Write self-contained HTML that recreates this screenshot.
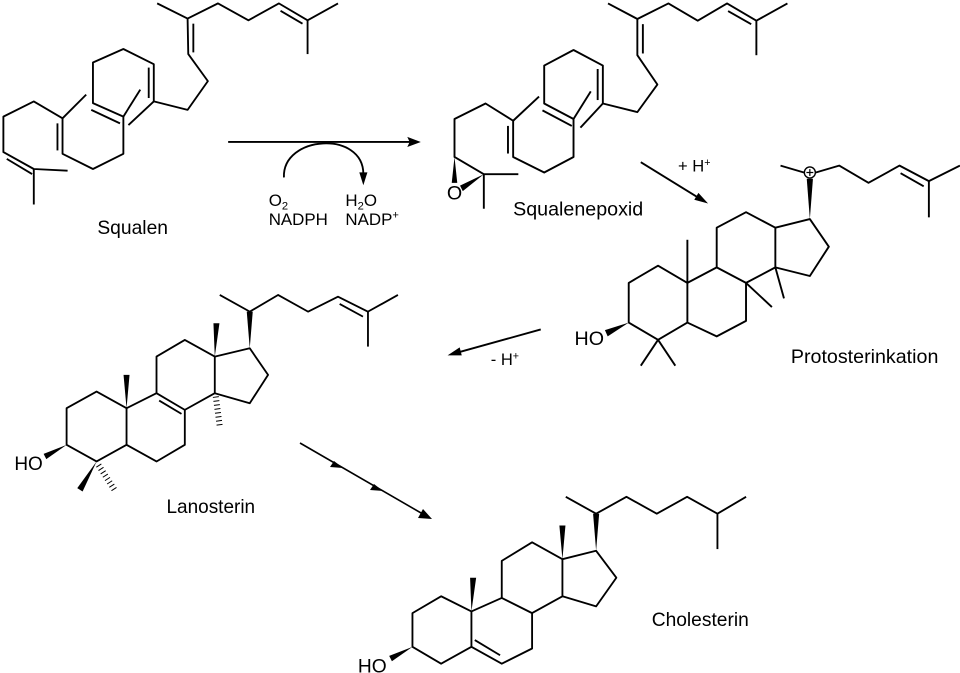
<!DOCTYPE html>
<html><head><meta charset="utf-8"><style>html,body{margin:0;padding:0;background:#fff}svg{display:block}</style></head><body>
<svg width="960" height="673" viewBox="0 0 960 673" xmlns="http://www.w3.org/2000/svg" font-family="Liberation Sans, Arial, sans-serif">
<rect width="960" height="673" fill="#fff"/>

<!-- Squalen -->
<g transform="scale(0.338)" stroke="#000" stroke-width="5.5" fill="none" stroke-linejoin="round">
<polyline points="465,10 555,55 645,10 735,60 825,10 910,60 1000,10"/>
<line x1="910" y1="60" x2="910" y2="160"/>
<line x1="830" y1="32" x2="895" y2="70"/>
<polyline points="555,55 557,160 615,240 555,325 455,300 455,190 365,145 275,185 275,305 365,345 365,455 275,500 185,455 185,350 100,300 10,345 10,450 100,500 200,505"/>
<line x1="572" y1="70" x2="572" y2="155"/>
<line x1="440" y1="200" x2="440" y2="290"/>
<line x1="270" y1="325" x2="355" y2="365"/>
<line x1="170" y1="365" x2="170" y2="445"/>
<line x1="20" y1="470" x2="95" y2="515"/>
<line x1="100" y1="500" x2="100" y2="605"/>
<line x1="185" y1="350" x2="255" y2="280"/>
<line x1="365" y1="345" x2="415" y2="265"/>
<line x1="455" y1="300" x2="380" y2="370"/>
<line x1="675" y1="420" x2="1215" y2="420"/>
<path d="M840,525 C835,400 1075,385 1075,515"/>
<polygon points="1245,420 1205,405 1212,420 1205,435" fill="#000" stroke="none"/>
<polygon points="1075,548 1063,510 1087,510" fill="#000" stroke="none"/>
<g fill="#000" stroke="none" font-size="50">
<text x="288" y="692" font-size="57">Squalen</text>
<text x="795" y="610">O<tspan font-size="33" dy="10">2</tspan></text>
<text x="795" y="665">NADPH</text>
<text x="1022" y="610">H<tspan font-size="33" dy="10">2</tspan><tspan dy="-10">O</tspan></text>
<text x="1022" y="665">NADP<tspan font-size="33" dy="-18">+</tspan></text>
</g>
</g>

<!-- Squalenepoxid + Protosterinkation -->
<g transform="translate(420,0) scale(0.345)" stroke="#000" stroke-width="5.5" fill="none" stroke-linejoin="round">
<polyline points="545,10 630,55 720,10 805,60 890,10 975,60 1065,10"/>
<line x1="975" y1="60" x2="975" y2="160"/>
<line x1="893" y1="32" x2="960" y2="70"/>
<polyline points="630,55 630,160 688,245 630,325 530,300 530,190 445,145 360,190 360,300 445,345 445,455 360,500 270,455 270,350 190,300 100,345 100,455 185,505 285,505"/>
<line x1="646" y1="70" x2="646" y2="155"/>
<line x1="515" y1="200" x2="515" y2="290"/>
<line x1="355" y1="320" x2="440" y2="365"/>
<line x1="255" y1="365" x2="255" y2="445"/>
<line x1="270" y1="350" x2="345" y2="280"/>
<line x1="445" y1="345" x2="495" y2="265"/>
<line x1="530" y1="300" x2="465" y2="370"/>
<line x1="185" y1="505" x2="185" y2="605"/>
<polygon points="100,455 92,530 108,530" fill="#000" stroke="none"/>
<polygon points="185,505 124,554 116,538" fill="#000" stroke="none"/>
<line x1="640" y1="470" x2="815" y2="578"/>
<polygon points="835,590 795,579 807,559" fill="#000" stroke="none"/>
<line x1="350" y1="955" x2="105" y2="1023"/>
<polygon points="80,1030 121,1030 115,1007" fill="#000" stroke="none"/>
<polygon points="605,820 690,770 775,820 775,935 690,985 605,935"/>
<polyline points="775,820 860,775 945,820 945,930 860,975 775,935"/>
<polyline points="860,775 860,660 945,615 1030,660 1030,775 945,820"/>
<polyline points="1030,660 1130,635 1185,715 1130,800 1030,775"/>
<line x1="775" y1="820" x2="775" y2="695"/>
<line x1="945" y1="820" x2="1020" y2="890"/>
<line x1="1030" y1="775" x2="1055" y2="865"/>
<line x1="690" y1="985" x2="640" y2="1060"/>
<line x1="690" y1="985" x2="740" y2="1060"/>
<polygon points="1130,635 1121,518 1139,518" fill="#000" stroke="none"/>
<polyline points="1045,480 1130,505 1215,480 1300,530 1390,480 1475,525 1565,480"/>
<line x1="1475" y1="525" x2="1475" y2="630"/>
<line x1="1393" y1="502" x2="1460" y2="540"/>
<circle cx="1130" cy="500" r="16" fill="#fff" stroke-width="4"/>
<line x1="1120" y1="500" x2="1140" y2="500" stroke-width="3.5"/>
<line x1="1130" y1="490" x2="1130" y2="510" stroke-width="3.5"/>
<polygon points="605,935 544,975 536,957" fill="#000" stroke="none"/>
<g fill="#000" stroke="none" font-size="57">
<text x="78" y="578">O</text>
<text x="270" y="625">Squalenepoxid</text>
<text x="748" y="497" font-size="48">+ H<tspan font-size="31" dy="-16">+</tspan></text>
<text x="448" y="1000">HO</text>
<text x="1075" y="1052">Protosterinkation</text>
<text x="205" y="1058" font-size="48">- H<tspan font-size="31" dy="-16">+</tspan></text>
</g>
</g>

<!-- Lanosterin -->
<g transform="translate(0,280) scale(0.333)" stroke="#000" stroke-width="5.5" fill="none" stroke-linejoin="round">
<polygon points="200,385 290,335 380,385 380,495 290,545 200,495"/>
<polyline points="380,385 470,340 555,390 555,495 470,545 380,495"/>
<line x1="478" y1="362" x2="545" y2="402"/>
<polyline points="470,340 470,230 555,180 645,230 645,340 555,390"/>
<polyline points="645,230 750,205 805,285 750,370 645,340"/>
<polygon points="380,385 371,285 389,285" fill="#000" stroke="none"/>
<polygon points="645,230 641,130 659,130" fill="#000" stroke="none"/>
<line x1="648" y1="350" x2="660" y2="440" stroke-width="18" stroke-dasharray="3 9"/>
<polygon points="750,205 741,95 759,95" fill="#000" stroke="none"/>
<polyline points="660,45 750,95 835,45 925,95 1015,50 1105,95 1195,45"/>
<line x1="1105" y1="95" x2="1105" y2="200"/>
<line x1="1020" y1="72" x2="1090" y2="110"/>
<polygon points="200,495 139,538 131,522" fill="#000" stroke="none"/>
<polygon points="290,545 248,635 232,625" fill="#000" stroke="none"/>
<line x1="296" y1="556" x2="345" y2="632" stroke-width="18" stroke-dasharray="3 9"/>
<g fill="#000" stroke="none" font-size="57">
<text x="43" y="570">HO</text>
<text x="500" y="699">Lanosterin</text>
</g>
</g>

<g stroke="#000" stroke-width="1.6">
<line x1="300" y1="443" x2="428" y2="517"/>
</g>
<g fill="#000">
<polygon points="343,468 330,467 334,461"/>
<polygon points="383,491 370,490 374,484"/>
<polygon points="432,519 418,518 423,509"/>
</g>

<!-- Cholesterin -->
<g transform="translate(340,480) scale(0.337)" stroke="#000" stroke-width="5.5" fill="none" stroke-linejoin="round">
<polygon points="215,395 300,345 390,390 390,495 300,545 215,495"/>
<polyline points="390,390 480,350 570,395 570,500 480,545 390,495"/>
<line x1="400" y1="475" x2="475" y2="520"/>
<polyline points="480,350 480,240 570,185 660,235 660,345 570,395"/>
<polyline points="660,235 760,210 820,290 760,375 660,345"/>
<polygon points="390,390 386,290 404,290" fill="#000" stroke="none"/>
<polygon points="660,235 651,135 669,135" fill="#000" stroke="none"/>
<polygon points="760,210 751,100 769,100" fill="#000" stroke="none"/>
<polyline points="670,50 760,100 850,50 940,100 1030,50 1120,100 1205,50"/>
<line x1="1120" y1="100" x2="1120" y2="205"/>
<polygon points="215,495 154,538 146,522" fill="#000" stroke="none"/>
<g fill="#000" stroke="none" font-size="57">
<text x="53" y="572">HO</text>
<text x="925" y="434">Cholesterin</text>
</g>
</g>
</svg>
</body></html>
